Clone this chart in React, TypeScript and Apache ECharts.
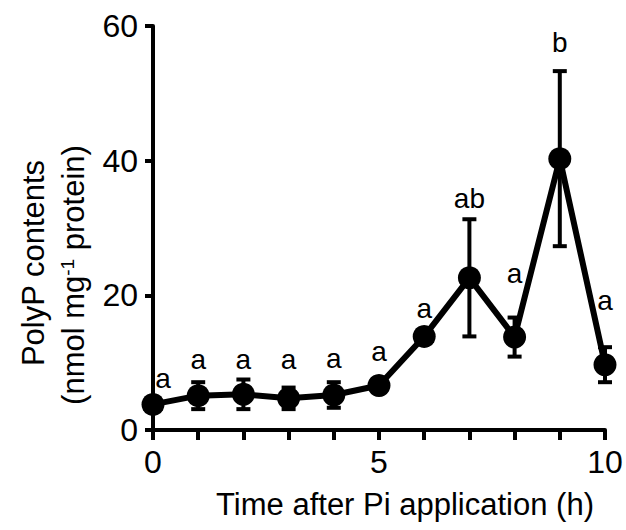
import React, { useEffect, useRef } from "react";
import * as echarts from "echarts";

const hours = [0, 1, 2, 3, 4, 5, 6, 7, 8, 9, 10];
const polyP = [3.8, 5.1, 5.3, 4.7, 5.2, 6.6, 13.9, 22.6, 13.8, 40.3, 9.7];
const sem = [0.8, 2.0, 2.2, 1.6, 1.9, 0.8, 0.8, 8.7, 2.9, 13.0, 2.6];
const letters = ["a", "a", "a", "a", "a", "a", "a", "ab", "a", "b", "a"];
const letterY = [7.6, 10.4, 10.4, 10.4, 10.6, 11.7, 18.1, 34.4, 23.3, 57.6, 19.2];
const yTicks = [0, 20, 40, 60];
const xTicks = [0, 5, 10];

const FONT = "'Liberation Sans', Arial, Helvetica, sans-serif";

export default function App() {
  const ref = useRef<HTMLDivElement>(null);
  useEffect(() => {
    if (!ref.current) return;
    const chart = echarts.init(ref.current, null, { renderer: "svg" });
    const errData = hours.map((h, i) => [h, polyP[i] - sem[i], polyP[i] + sem[i]]);
    const lineData = hours.map((h, i) => [h, polyP[i]]);
    const letterData = hours.map((h, i) => [h, letterY[i], i]);
    chart.setOption({
      animation: false,
      backgroundColor: "#ffffff",
      grid: { left: 153, right: 21, top: 26, bottom: 100, containLabel: false },
      xAxis: {
        type: "value",
        min: xTicks[0],
        max: xTicks[xTicks.length - 1],
        interval: 5,
        axisLine: { show: true, lineStyle: { color: "#000", width: 4 } },
        axisTick: { show: true, length: 10, lineStyle: { color: "#000", width: 4 } },
        minorTick: { show: true, splitNumber: 5, length: 10, lineStyle: { color: "#000", width: 4 } },
        splitLine: { show: false },
        axisLabel: { color: "#000", fontSize: 32, fontFamily: FONT, margin: 16 },
      },
      yAxis: {
        type: "value",
        min: yTicks[0],
        max: yTicks[yTicks.length - 1],
        interval: 20,
        axisLine: { show: true, lineStyle: { color: "#000", width: 4 } },
        axisTick: { show: true, length: 8, lineStyle: { color: "#000", width: 4 } },
        splitLine: { show: false },
        axisLabel: { color: "#000", fontSize: 32, fontFamily: FONT, margin: 15 },
      },
      graphic: [
        {
          type: "text",
          x: 405,
          y: 504,
          style: {
            text: "Time after Pi application (h)",
            fill: "#000",
            fontSize: 31,
            fontFamily: FONT,
            align: "center",
            verticalAlign: "middle",
          },
        },
        {
          type: "text",
          x: 33,
          y: 263,
          rotation: Math.PI / 2,
          style: {
            text: "PolyP contents",
            fill: "#000",
            fontSize: 31,
            fontFamily: FONT,
            align: "center",
            verticalAlign: "middle",
          },
        },
        {
          type: "text",
          x: 73,
          y: 275,
          rotation: Math.PI / 2,
          style: {
            text: "{n|(nmol mg}{s|-1}{n| protein)}",
            fill: "#000",
            fontSize: 31,
            fontFamily: FONT,
            align: "center",
            verticalAlign: "middle",
            rich: {
              n: { fontSize: 31, fontFamily: FONT, fill: "#000" },
              s: { fontSize: 19, fontFamily: FONT, fill: "#000", verticalAlign: "top" },
            },
          },
        },
      ],
      series: [
        {
          type: "custom",
          data: errData,
          z: 3,
          renderItem: (params: any, api: any) => {
            const x = api.value(0);
            const lo = api.coord([x, api.value(1)]);
            const hi = api.coord([x, api.value(2)]);
            const w = 7;
            const st = { stroke: "#000", lineWidth: 4 };
            return {
              type: "group",
              children: [
                { type: "line", shape: { x1: hi[0], y1: hi[1], x2: lo[0], y2: lo[1] }, style: st },
                { type: "line", shape: { x1: hi[0] - w, y1: hi[1], x2: hi[0] + w, y2: hi[1] }, style: st },
                { type: "line", shape: { x1: lo[0] - w, y1: lo[1], x2: lo[0] + w, y2: lo[1] }, style: st },
              ],
            };
          },
        },
        {
          type: "line",
          data: lineData,
          z: 4,
          symbol: "circle",
          symbolSize: 23,
          showSymbol: true,
          itemStyle: { color: "#000" },
          lineStyle: { color: "#000", width: 6 },
        },
        {
          type: "custom",
          data: letterData,
          z: 5,
          renderItem: (params: any, api: any) => {
            const p = api.coord([api.value(0), api.value(1)]);
            const idx = api.value(2);
            // first letter sits just right of the y axis line
            const dx = idx === 0 ? 10 : 0;
            return {
              type: "text",
              x: p[0] + dx,
              y: p[1],
              style: {
                text: letters[idx],
                fill: "#000",
                fontSize: 28,
                fontFamily: FONT,
                align: "center",
                verticalAlign: "middle",
              },
            };
          },
        },
      ],
    });
    return () => chart.dispose();
  }, []);
  return (
    <div
      ref={ref}
      style={{ position: "fixed", left: 0, top: 0, width: 626, height: 530, background: "#fff" }}
    />
  );
}
